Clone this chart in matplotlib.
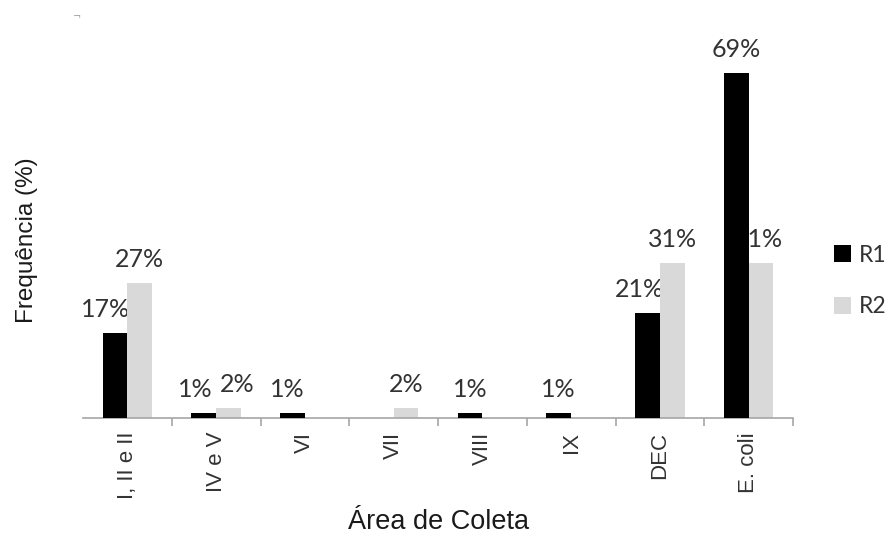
import matplotlib
import matplotlib.pyplot as plt
import numpy as np

matplotlib.use("Agg")

categories = ["I, II e II", "IV e V", "VI", "VII", "VIII", "IX", "DEC", "E. coli"]
r1 = [17, 1, 1, 0, 1, 1, 21, 69]
r2 = [27, 2, 0, 2, 0, 0, 31, 31]

# horizontal nudges (points) of the value labels so neighbours don't collide
r1_dx = [-7, -6, -4, 0, 0, 0, -6, 0]
r2_dx = [0, 6, 0, 0, 0, 0, 0, -2]

label_font = "Lato"
axis_font = "Liberation Sans"
text_color = "#333333"

fig = plt.figure(figsize=(8.9, 5.38), dpi=100)
ax = fig.add_axes([83 / 890, 1 - 418 / 538, 710 / 890, 380 / 538])

x = np.arange(len(categories))
w = 0.28
bars1 = ax.bar(x - w / 2, r1, width=w, color="black", zorder=3, label="R1")
bars2 = ax.bar(x + w / 2, r2, width=w, color="#d9d9d9", zorder=2, label="R2")

for bars, vals, dxs in ((bars1, r1, r1_dx), (bars2, r2, r2_dx)):
    for b, v, dx in zip(bars, vals, dxs):
        if v == 0:
            continue
        ax.annotate(f"{v}%", (b.get_x() + b.get_width() / 2, v),
                    xytext=(dx, 11.5), textcoords="offset points",
                    ha="center", va="baseline", fontsize=18,
                    family=label_font, color=text_color, zorder=1)

ax.set_xlim(-0.5, len(categories) - 0.5)
ax.set_ylim(0, 76)
ax.set_yticks([])
for side in ("left", "top", "right"):
    ax.spines[side].set_visible(False)
ax.spines["bottom"].set_color("#a6a6a6")
ax.spines["bottom"].set_linewidth(1.2)

ax.set_xticks(x)
ax.set_xticklabels(categories, rotation=90, va="top", ha="center",
                   family=axis_font, fontsize=16, color=text_color)
ax.tick_params(axis="x", which="major", length=0, pad=10)
ax.set_xticks(np.arange(0.5, len(categories), 1), minor=True)
ax.tick_params(axis="x", which="minor", length=6, width=1.2, color="#a6a6a6",
               direction="out")

fig.text(439 / 890, 1 - 522 / 538, "Área de Coleta", ha="center", va="center",
         family=axis_font, fontsize=19.5, color="#1a1a1a")
fig.text(27 / 890, 1 - 240 / 538, "Frequência (%)", ha="center", va="center",
         rotation=90, family=axis_font, fontsize=17.5, color="#1a1a1a")

fig.legend(handles=[bars1, bars2], loc="center left",
           bbox_to_anchor=(834 / 890, 1 - 281 / 538), frameon=False,
           prop={"family": label_font, "size": 16.5}, labelcolor=text_color,
           handlelength=0.75, handleheight=0.75, handletextpad=0.35,
           labelspacing=1.35, borderpad=0, borderaxespad=0)

fig.text(77 / 890, 1 - 17 / 538, "¬", ha="center", va="center",
         fontsize=7, color="#9a9a9a")

fig.savefig("out.png", dpi=100)
plt.close(fig)
